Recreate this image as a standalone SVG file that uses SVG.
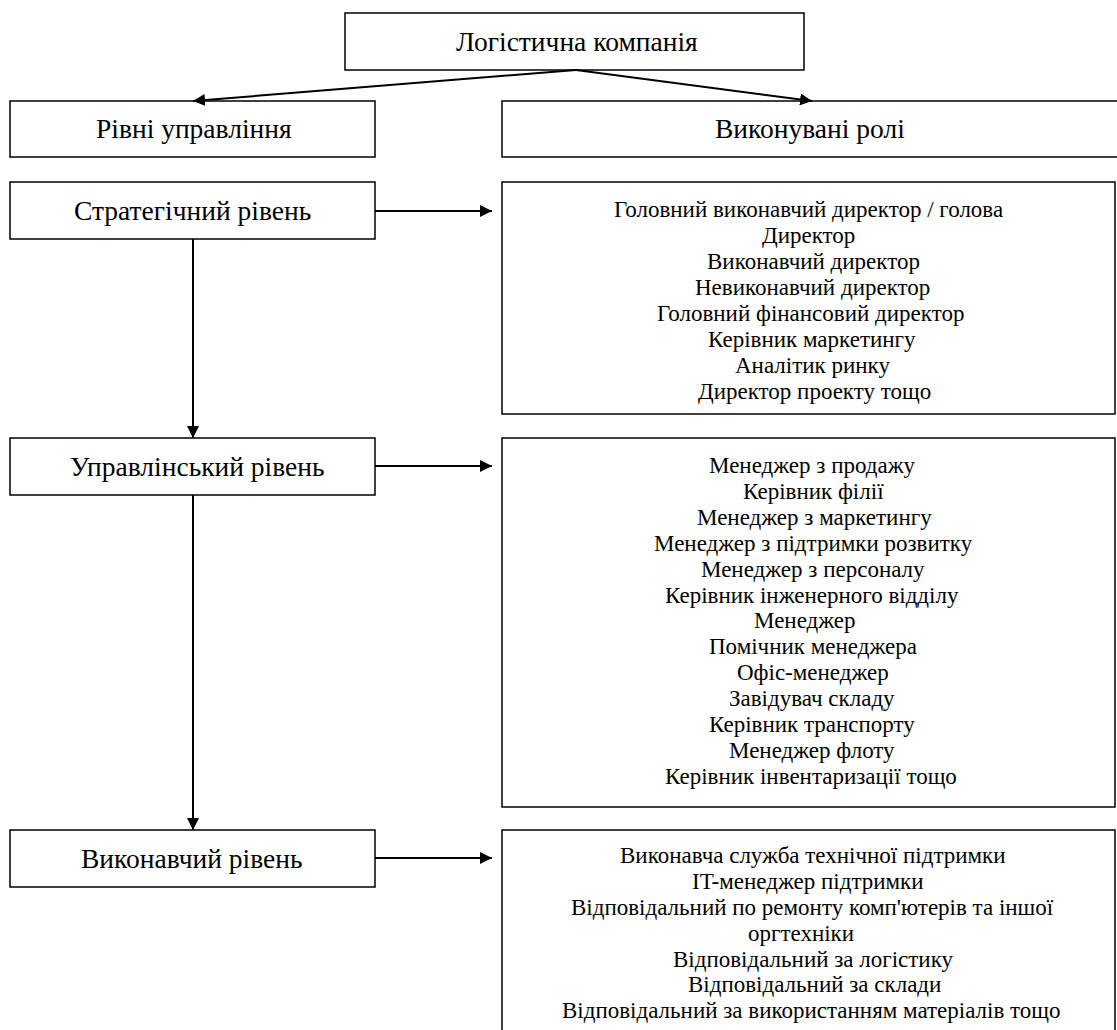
<svg xmlns="http://www.w3.org/2000/svg" width="1117" height="1030" viewBox="0 0 1117 1030">
<defs>
<marker id="ah" viewBox="0 0 10 10" refX="10" refY="5" markerWidth="6" markerHeight="6" markerUnits="strokeWidth" orient="auto">
<path d="M0,0 L10,5 L0,10 z" fill="#000"/>
</marker>
</defs>
<rect width="1117" height="1030" fill="#fff"/>
<g id="company"><rect x="345" y="13" width="459" height="57" fill="#fff" stroke="#000" stroke-width="1.5"/><text x="456" y="51" font-family="Liberation Serif, serif" font-size="27.5">Логістична компанія</text></g>
<g id="levels"><rect x="10" y="101" width="365" height="56" fill="#fff" stroke="#000" stroke-width="1.5"/><text x="96" y="138" font-family="Liberation Serif, serif" font-size="27.5">Рівні управління</text></g>
<g id="roles"><rect x="502" y="101" width="630" height="56" fill="#fff" stroke="#000" stroke-width="1.5"/><text x="715" y="138" font-family="Liberation Serif, serif" font-size="27.5">Виконувані ролі</text></g>
<g id="strategic"><rect x="10" y="182" width="365" height="57" fill="#fff" stroke="#000" stroke-width="1.5"/><text x="74" y="220" font-family="Liberation Serif, serif" font-size="27.5">Стратегічний рівень</text></g>
<g id="strategic-roles"><rect x="502" y="182" width="613" height="232" fill="#fff" stroke="#000" stroke-width="1.5"/>
<text x="614" y="217" font-family="Liberation Serif, serif" font-size="23">Головний виконавчий директор / голова</text>
<text x="762" y="243" font-family="Liberation Serif, serif" font-size="23">Директор</text>
<text x="707" y="269" font-family="Liberation Serif, serif" font-size="23">Виконавчий директор</text>
<text x="695" y="295" font-family="Liberation Serif, serif" font-size="23">Невиконавчий директор</text>
<text x="657" y="321" font-family="Liberation Serif, serif" font-size="23">Головний фінансовий директор</text>
<text x="708" y="347" font-family="Liberation Serif, serif" font-size="23">Керівник маркетингу</text>
<text x="735" y="373" font-family="Liberation Serif, serif" font-size="23">Аналітик ринку</text>
<text x="698" y="399" font-family="Liberation Serif, serif" font-size="23">Директор проекту тощо</text>
</g>
<g id="managerial"><rect x="10" y="438" width="365" height="57" fill="#fff" stroke="#000" stroke-width="1.5"/><text x="70" y="476" font-family="Liberation Serif, serif" font-size="27.5">Управлінський рівень</text></g>
<g id="managerial-roles"><rect x="502" y="438" width="613" height="369" fill="#fff" stroke="#000" stroke-width="1.5"/>
<text x="709" y="473" font-family="Liberation Serif, serif" font-size="23">Менеджер з продажу</text>
<text x="743" y="499" font-family="Liberation Serif, serif" font-size="23">Керівник філії</text>
<text x="697" y="525" font-family="Liberation Serif, serif" font-size="23">Менеджер з маркетингу</text>
<text x="654" y="551" font-family="Liberation Serif, serif" font-size="23">Менеджер з підтримки розвитку</text>
<text x="701" y="577" font-family="Liberation Serif, serif" font-size="23">Менеджер з персоналу</text>
<text x="665" y="603" font-family="Liberation Serif, serif" font-size="23">Керівник інженерного відділу</text>
<text x="754" y="628" font-family="Liberation Serif, serif" font-size="23">Менеджер</text>
<text x="709" y="654" font-family="Liberation Serif, serif" font-size="23">Помічник менеджера</text>
<text x="737" y="680" font-family="Liberation Serif, serif" font-size="23">Офіс-менеджер</text>
<text x="729" y="706" font-family="Liberation Serif, serif" font-size="23">Завідувач складу</text>
<text x="709" y="732" font-family="Liberation Serif, serif" font-size="23">Керівник транспорту</text>
<text x="729" y="758" font-family="Liberation Serif, serif" font-size="23">Менеджер флоту</text>
<text x="665" y="784" font-family="Liberation Serif, serif" font-size="23">Керівник інвентаризації тощо</text>
</g>
<g id="executive"><rect x="10" y="830" width="365" height="57" fill="#fff" stroke="#000" stroke-width="1.5"/><text x="81" y="868" font-family="Liberation Serif, serif" font-size="27.5">Виконавчий рівень</text></g>
<g id="executive-roles"><rect x="502" y="830" width="613" height="220" fill="#fff" stroke="#000" stroke-width="1.5"/>
<text x="620" y="863" font-family="Liberation Serif, serif" font-size="23">Виконавча служба технічної підтримки</text>
<text x="692" y="889" font-family="Liberation Serif, serif" font-size="23">IT-менеджер підтримки</text>
<text x="571" y="915" font-family="Liberation Serif, serif" font-size="23">Відповідальний по ремонту комп'ютерів та іншої</text>
<text x="748" y="941" font-family="Liberation Serif, serif" font-size="23">оргтехніки</text>
<text x="673" y="967" font-family="Liberation Serif, serif" font-size="23">Відповідальний за логістику</text>
<text x="688" y="992" font-family="Liberation Serif, serif" font-size="23">Відповідальний за склади</text>
<text x="562" y="1018" font-family="Liberation Serif, serif" font-size="23">Відповідальний за використанням матеріалів тощо</text>
</g>
<g id="connectors" stroke="#000" stroke-width="2" fill="none">
<line x1="576" y1="70" x2="193" y2="101" marker-end="url(#ah)"/>
<line x1="576" y1="70" x2="812" y2="101" marker-end="url(#ah)"/>
<line x1="375" y1="211" x2="492" y2="211" marker-end="url(#ah)"/>
<line x1="375" y1="466" x2="492" y2="466" marker-end="url(#ah)"/>
<line x1="375" y1="858" x2="492" y2="858" marker-end="url(#ah)"/>
<line x1="193" y1="239" x2="193" y2="438" marker-end="url(#ah)"/>
<line x1="193" y1="495" x2="193" y2="830" marker-end="url(#ah)"/>
</g>
</svg>
